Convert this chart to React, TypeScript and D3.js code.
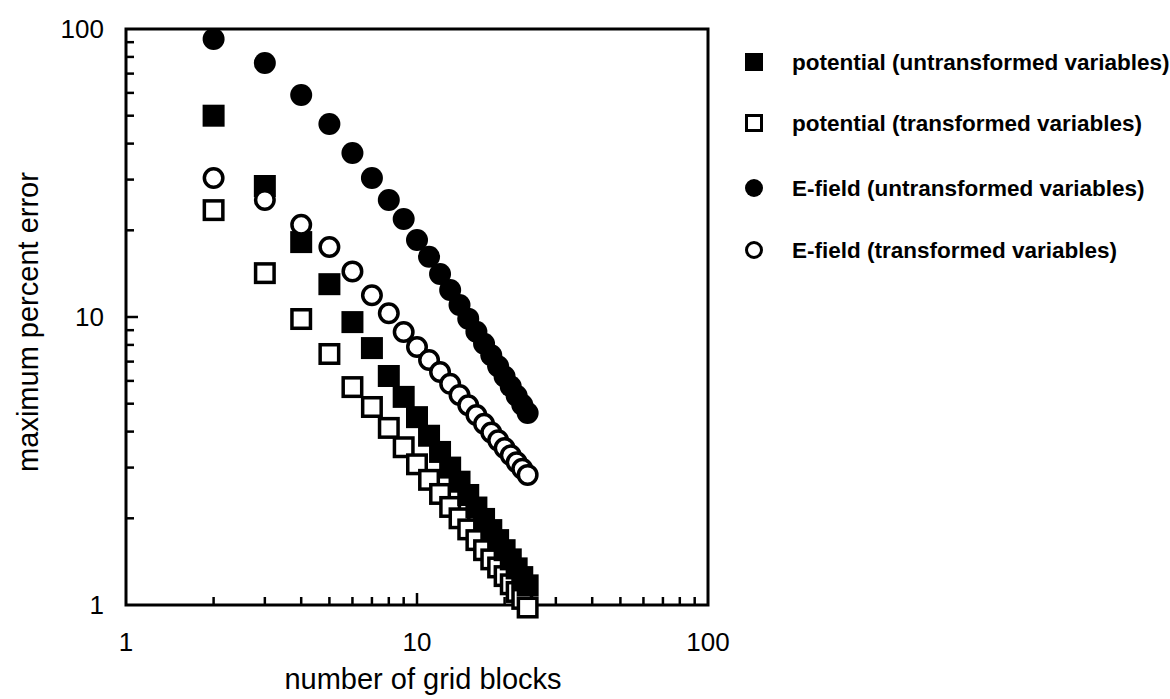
import React from "react";
import * as d3 from "d3";

const gridBlocks = [2, 3, 4, 5, 6, 7, 8, 9, 10, 11, 12, 13, 14, 15, 16, 17, 18, 19, 20, 21, 22, 23, 24];
const potentialUntransformed = [50, 28.5, 18.2, 13.0, 9.6, 7.8, 6.24, 5.28, 4.49, 3.87, 3.4, 3.0, 2.68, 2.41, 2.18, 1.99, 1.82, 1.68, 1.55, 1.44, 1.34, 1.25, 1.17];
const potentialTransformed = [23.5, 14.2, 9.84, 7.44, 5.71, 4.87, 4.12, 3.53, 3.08, 2.72, 2.43, 2.19, 2.0, 1.83, 1.68, 1.55, 1.44, 1.35, 1.26, 1.18, 1.11, 1.05, 0.98];
const efieldUntransformed = [92.3, 76.2, 59, 46.8, 37.1, 30.4, 25.5, 21.9, 18.5, 16.2, 14.1, 12.4, 11.0, 9.87, 8.89, 8.07, 7.36, 6.75, 6.21, 5.74, 5.33, 4.96, 4.64];
const efieldTransformed = [30.4, 25.5, 20.9, 17.5, 14.4, 11.9, 10.3, 8.87, 7.87, 7.09, 6.44, 5.86, 5.36, 4.94, 4.57, 4.26, 3.97, 3.73, 3.51, 3.31, 3.13, 2.97, 2.83];

const xTickLabels = [1, 10, 100];
const yTickLabels = [1, 10, 100];
const minorTicks = [2, 3, 4, 5, 6, 7, 8, 9, 20, 30, 40, 50, 60, 70, 80, 90];

const legendLabels = [
  "potential (untransformed variables)",
  "potential (transformed variables)",
  "E-field (untransformed variables)",
  "E-field (transformed variables)",
];
const legendKinds = ["fsq", "osq", "fci", "oci"];

const FONT = "'Liberation Sans', Arial, Helvetica, sans-serif";

export default function App() {
  const L = 126, R = 708, T = 29, B = 605;
  const x = d3.scaleLog().domain([1, 100]).range([L, R]);
  const y = d3.scaleLog().domain([1, 100]).range([B, T]);

  const S = 22; // marker size
  const sw = 3.5;

  const marker = (kind: string, cx: number, cy: number, size: number, stroke: number, key: string) => {
    const h = size / 2;
    if (kind === "fsq") return <rect key={key} x={cx - h} y={cy - h} width={size} height={size} fill="#000" />;
    if (kind === "osq")
      return (
        <rect key={key} x={cx - h + stroke / 2} y={cy - h + stroke / 2} width={size - stroke} height={size - stroke}
          fill="#fff" stroke="#000" strokeWidth={stroke} />
      );
    if (kind === "fci") return <circle key={key} cx={cx} cy={cy} r={h} fill="#000" />;
    return <circle key={key} cx={cx} cy={cy} r={h - stroke / 2} fill="#fff" stroke="#000" strokeWidth={stroke} />;
  };

  const pts: any[] = [];
  gridBlocks.forEach((g, i) => {
    pts.push(marker("fsq", x(g), y(potentialUntransformed[i]), S, sw, `a${i}`));
    pts.push(marker("osq", x(g), y(potentialTransformed[i]), S, sw, `b${i}`));
    pts.push(marker("fci", x(g), y(efieldUntransformed[i]), S, sw, `c${i}`));
    pts.push(marker("oci", x(g), y(efieldTransformed[i]), S, sw, `d${i}`));
  });

  const legendY = [62, 123, 188, 250];

  return (
    <svg width={1170} height={699} style={{ position: "absolute", left: 0, top: 0, background: "#fff" }}
      fontFamily={FONT}>
      <rect x={0} y={0} width={1170} height={699} fill="#fff" />
      {/* ticks */}
      {minorTicks.map((t) => (
        <g key={`t${t}`}>
          <line x1={x(t)} x2={x(t)} y1={B} y2={B - 8} stroke="#000" strokeWidth={2.5} />
          <line x1={L} x2={L + 8} y1={y(t)} y2={y(t)} stroke="#000" strokeWidth={2.5} />
        </g>
      ))}
      <line x1={x(10)} x2={x(10)} y1={B} y2={B - 12} stroke="#000" strokeWidth={2.5} />
      <line x1={L} x2={L + 12} y1={y(10)} y2={y(10)} stroke="#000" strokeWidth={2.5} />
      {/* frame */}
      <rect x={L} y={T} width={R - L} height={B - T} fill="none" stroke="#000" strokeWidth={3} />
      {/* data */}
      {pts}
      {/* tick labels */}
      {xTickLabels.map((t) => (
        <text key={`xl${t}`} x={x(t)} y={651} fontSize={26} textAnchor="middle" fill="#000">{t}</text>
      ))}
      {yTickLabels.map((t) => (
        <text key={`yl${t}`} x={104} y={y(t) + 9} fontSize={26} textAnchor="end" fill="#000">{t}</text>
      ))}
      {/* axis titles */}
      <text x={423} y={689} fontSize={29} textAnchor="middle" fill="#000">number of grid blocks</text>
      <text transform={`translate(38,322) rotate(-90)`} fontSize={29} textAnchor="middle" fill="#000">maximum percent error</text>
      {/* legend */}
      {legendLabels.map((lab, i) => (
        <g key={`lg${i}`}>
          {marker(legendKinds[i], 754, legendY[i], 18, 3, `lm${i}`)}
          <text x={792} y={legendY[i] + 7.5} fontSize={22.5} fontWeight="bold" fill="#000">{lab}</text>
        </g>
      ))}
    </svg>
  );
}
